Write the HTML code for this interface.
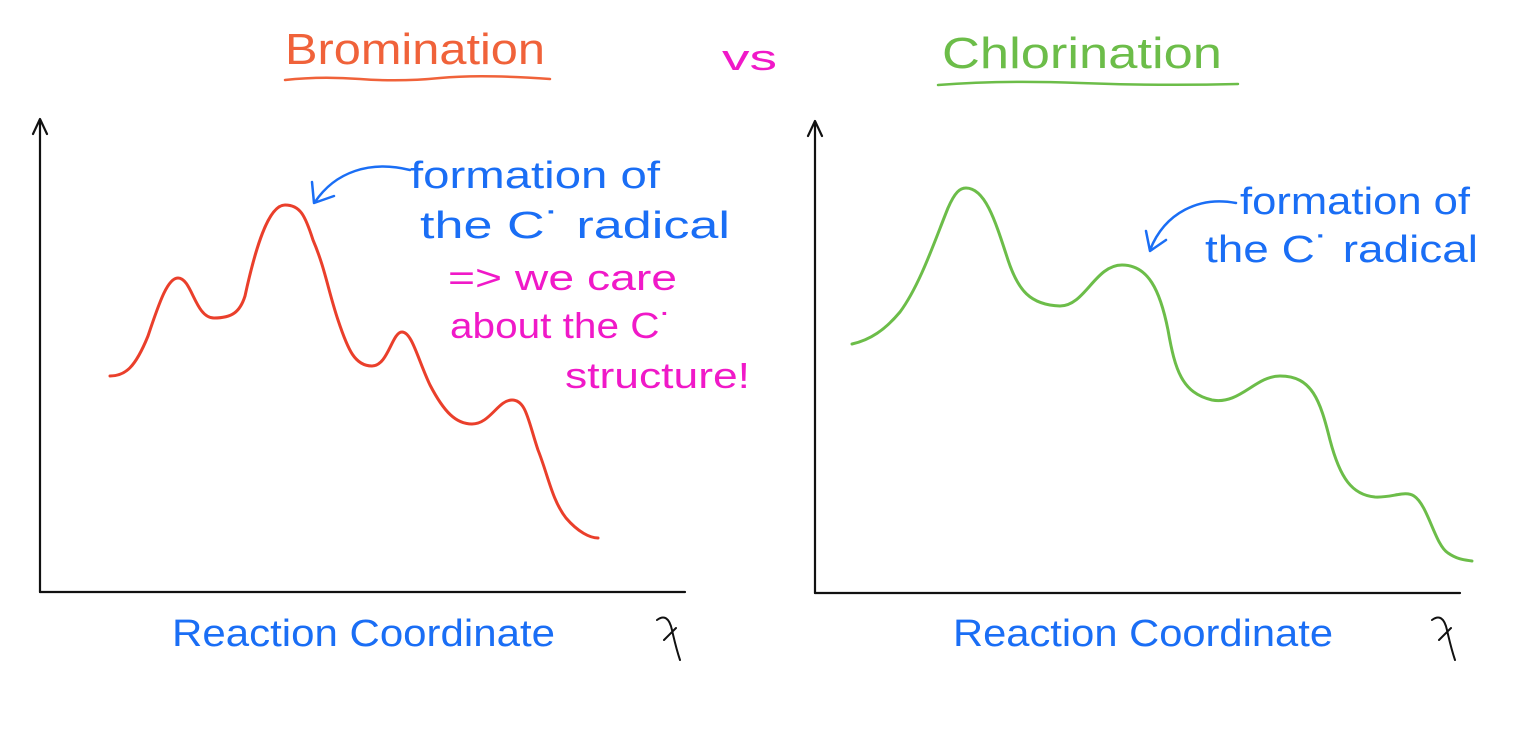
<!DOCTYPE html>
<html><head><meta charset="utf-8"><style>
html,body{margin:0;padding:0;background:#fff;}
svg{display:block}
text{font-family:"Liberation Sans",sans-serif;}
</style></head><body>
<svg width="1536" height="736" viewBox="0 0 1536 736" xmlns="http://www.w3.org/2000/svg">
<g fill="none" stroke-linecap="round" stroke-linejoin="round">
<!-- axes left -->
<path d="M40 592 L40 120 M33 134 L40 119 L47 134" stroke="#111" stroke-width="2.2"/>
<path d="M40 592 L685 592" stroke="#111" stroke-width="2.2"/>
<!-- axes right -->
<path d="M815 593 L815 122 M808 136 L815 121 L822 136" stroke="#111" stroke-width="2.2"/>
<path d="M815 593 L1460 593" stroke="#111" stroke-width="2.2"/>
<!-- x symbols -->
<path d="M657 620 Q668 612 672 630 Q676 648 680 660 M664 640 L676 628" stroke="#111" stroke-width="2"/>
<path d="M1432 620 Q1443 612 1447 630 Q1451 648 1455 660 M1439 640 L1451 628" stroke="#111" stroke-width="2"/>
<!-- red curve -->
<path d="M110 376 C125 376 135 368 148 336 C160 300 168 278 178 278 C192 278 195 318 214 318 C232 318 240 312 245 296 C255 250 268 205 285 205 C300 205 305 215 313 240 C325 268 328 290 338 320 C348 350 355 366 372 366 C388 366 392 332 402 332 C412 332 418 360 430 385 C444 412 456 424 472 424 C490 424 498 400 512 400 C526 400 528 420 538 450 C548 475 552 500 566 518 C578 532 590 538 598 538" stroke="#ea3f2b" stroke-width="3"/>
<!-- green curve -->
<path d="M852 344 C870 340 885 330 900 312 C920 285 935 240 948 208 C955 192 960 188 966 188 C985 188 995 220 1008 260 C1018 290 1030 305 1060 306 C1085 306 1095 265 1122 265 C1148 265 1160 290 1168 330 C1175 370 1182 393 1212 400 C1240 405 1255 376 1280 376 C1312 376 1320 400 1330 440 C1340 478 1352 495 1375 497 C1392 498 1405 490 1414 496 C1428 505 1435 545 1448 553 C1458 560 1466 560 1472 561" stroke="#6cbd49" stroke-width="3"/>
<!-- underlines -->
<path d="M285 80 Q320 76 360 79 T440 78 T550 79" stroke="#f0623a" stroke-width="2.5"/>
<path d="M938 85 Q1000 80 1080 83 T1238 84" stroke="#6cbd49" stroke-width="2.5"/>
<!-- arrows -->
<path d="M410 170 C370 160 335 172 315 202 M312 182 L314 203 L334 196" stroke="#1a6ef5" stroke-width="2.5"/>
<path d="M1236 203 C1200 196 1165 212 1150 250 M1146 231 L1150 251 L1166 240" stroke="#1a6ef5" stroke-width="2.5"/>
</g>
<text x="285" y="64" font-size="44" fill="#f0623a" textLength="260" lengthAdjust="spacingAndGlyphs">Bromination</text>
<text x="722" y="70" font-size="36" fill="#f019c8" textLength="55" lengthAdjust="spacingAndGlyphs">vs</text>
<text x="942" y="68" font-size="44" fill="#6cbd49" textLength="280" lengthAdjust="spacingAndGlyphs">Chlorination</text>
<g font-size="38" fill="#1a6ef5">
<text x="410" y="188" textLength="250" lengthAdjust="spacingAndGlyphs">formation of</text>
<text x="420" y="238" textLength="310" lengthAdjust="spacingAndGlyphs">the C˙ radical</text>
<text x="1240" y="214" textLength="230" lengthAdjust="spacingAndGlyphs">formation of</text>
<text x="1205" y="262" textLength="273" lengthAdjust="spacingAndGlyphs">the C˙ radical</text>
<text x="172" y="646" textLength="383" lengthAdjust="spacingAndGlyphs">Reaction Coordinate</text>
<text x="953" y="646" textLength="380" lengthAdjust="spacingAndGlyphs">Reaction Coordinate</text>
</g>
<g font-size="36" fill="#f019c8">
<text x="448" y="290" textLength="229" lengthAdjust="spacingAndGlyphs">=&gt; we care</text>
<text x="450" y="338" textLength="223" lengthAdjust="spacingAndGlyphs">about the C˙</text>
<text x="565" y="388" textLength="185" lengthAdjust="spacingAndGlyphs">structure!</text>
</g>
</svg>
</body></html>
